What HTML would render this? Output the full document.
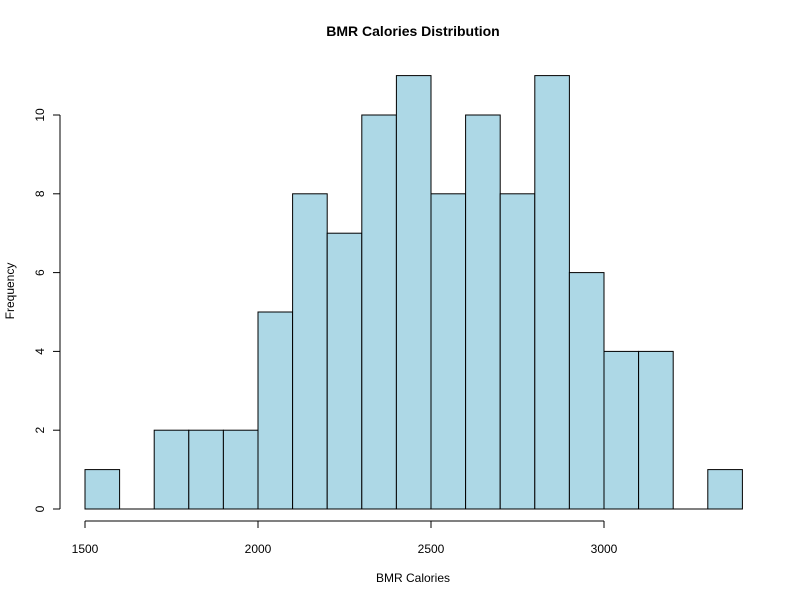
<!DOCTYPE html>
<html><head><meta charset="utf-8"><style>body{margin:0;background:#fff}svg{display:block;font-family:"Liberation Sans",Arial,sans-serif}</style></head>
<body>
<svg id="chart" width="800" height="600">
<text x="413" y="36" text-anchor="middle" font-weight="bold" font-size="14">BMR Calories Distribution</text>
<text x="413" y="582" text-anchor="middle" font-size="12">BMR Calories</text>
<text transform="translate(14,291) rotate(-90)" text-anchor="middle" font-size="12">Frequency</text>
<g id="bars"></g>
<g id="xaxis"></g>
<g id="yaxis"></g>
</svg>
<script>
const binStarts=[1500,1600,1700,1800,1900,2000,2100,2200,2300,2400,2500,2600,2700,2800,2900,3000,3100,3200,3300];
const counts=[1,0,2,2,2,5,8,7,10,11,8,10,8,11,6,4,4,0,1];
const binWidth=100;
const xTicks=[1500,2000,2500,3000];
const yTicks=[0,2,4,6,8,10];
const NS="http://www.w3.org/2000/svg";
const xs=v=>85+(v-1500)*(519/1500);
const ys=v=>509-v*39.4;
function mk(t,a,p){const e=document.createElementNS(NS,t);for(const k in a)e.setAttribute(k,a[k]);p.appendChild(e);return e;}
const bars=document.getElementById('bars');
binStarts.forEach((b,i)=>{
  let r;
  if(counts[i]===0){
    r=mk('line',{x1:xs(b),x2:xs(b+binWidth),y1:ys(0),y2:ys(0),stroke:'#000','stroke-width':1},bars);
  } else {
    r=mk('rect',{x:xs(b),y:ys(counts[i]),width:xs(b+binWidth)-xs(b),height:ys(0)-ys(counts[i]),fill:'#add8e6',stroke:'#000','stroke-width':1},bars);
  }
  
  
});
const xa=document.getElementById('xaxis');
mk('line',{x1:xs(xTicks[0]),x2:xs(xTicks[xTicks.length-1]),y1:521,y2:521,stroke:'#000'},xa);
xTicks.forEach(t=>{
  mk('line',{x1:xs(t),x2:xs(t),y1:521,y2:528,stroke:'#000'},xa);
  const tx=mk('text',{x:xs(t),y:553,'text-anchor':'middle','font-size':12},xa);tx.textContent=t;
  
  
});
const ya=document.getElementById('yaxis');
mk('line',{x1:60,x2:60,y1:ys(yTicks[0]),y2:ys(yTicks[yTicks.length-1]),stroke:'#000'},ya);
yTicks.forEach(t=>{
  mk('line',{x1:53,x2:60,y1:ys(t),y2:ys(t),stroke:'#000'},ya);
  const tx=mk('text',{transform:`translate(44,${ys(t)}) rotate(-90)`,'text-anchor':'middle','font-size':12},ya);tx.textContent=t;
  
  
});
</script>
</body></html>
